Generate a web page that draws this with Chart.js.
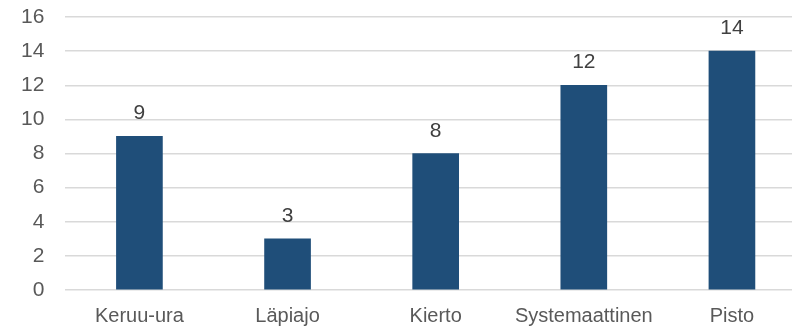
<!DOCTYPE html>
<html>
<head>
<meta charset="utf-8">
<script src="https://cdn.jsdelivr.net/npm/chart.js@4"></script>
<style>
  html, body { margin: 0; padding: 0; background: #fff; overflow: hidden; }
  #wrap { width: 806px; height: 326px; }
</style>
</head>
<body>
<div id="wrap"><canvas id="chart"></canvas></div>
<script>
const categories = ['Keruu-ura', 'Läpiajo', 'Kierto', 'Systemaattinen', 'Pisto'];
const values = [9, 3, 8, 12, 14];

// values above the bars
const barLabels = {
    id: 'barLabels',
    afterDatasetsDraw(chart) {
        const ctx = chart.ctx;
        const meta = chart.getDatasetMeta(0);
        ctx.save();
        ctx.font = '21px "Liberation Sans", Arial, sans-serif';
        ctx.fillStyle = '#404040';
        ctx.textAlign = 'center';
        ctx.textBaseline = 'alphabetic';
        meta.data.forEach((bar, i) => {
            ctx.fillText(values[i], bar.x, bar.y - 17);
        });
        ctx.restore();
    }
};

const ctx = document.getElementById('chart').getContext('2d');
new Chart(ctx, {
    type: 'bar',
    data: {
        labels: categories,
        datasets: [{
            data: values,
            backgroundColor: '#1F4E79',
            barThickness: 46
        }]
    },
    options: {
        responsive: true,
        maintainAspectRatio: false,
        animation: false,
        layout: { padding: { left: 0, top: 17, right: 0, bottom: 0 } },
        plugins: {
            legend: { display: false },
            tooltip: { enabled: false }
        },
        scales: {
            x: {
                grid: { display: false },
                border: { display: false },
                afterFit(scale) {
                    scale.height = 36;
                },
                ticks: {
                    color: '#595959',
                    padding: 6,
                    maxRotation: 0,
                    font: { family: '"Liberation Sans", Arial, sans-serif', size: 20 }
                }
            },
            y: {
                min: 0,
                max: 16,
                grid: { color: '#D9D9D9', lineWidth: 1.5, drawTicks: false },
                border: { display: false },
                afterFit(scale) {
                    scale.paddingTop = 0;
                    scale.paddingBottom = 0;
                },
                ticks: {
                    stepSize: 2,
                    color: '#595959',
                    padding: 21,
                    font: { family: '"Liberation Sans", Arial, sans-serif', size: 21 }
                }
            }
        }
    },
    plugins: [barLabels]
});
</script>
</body>
</html>
